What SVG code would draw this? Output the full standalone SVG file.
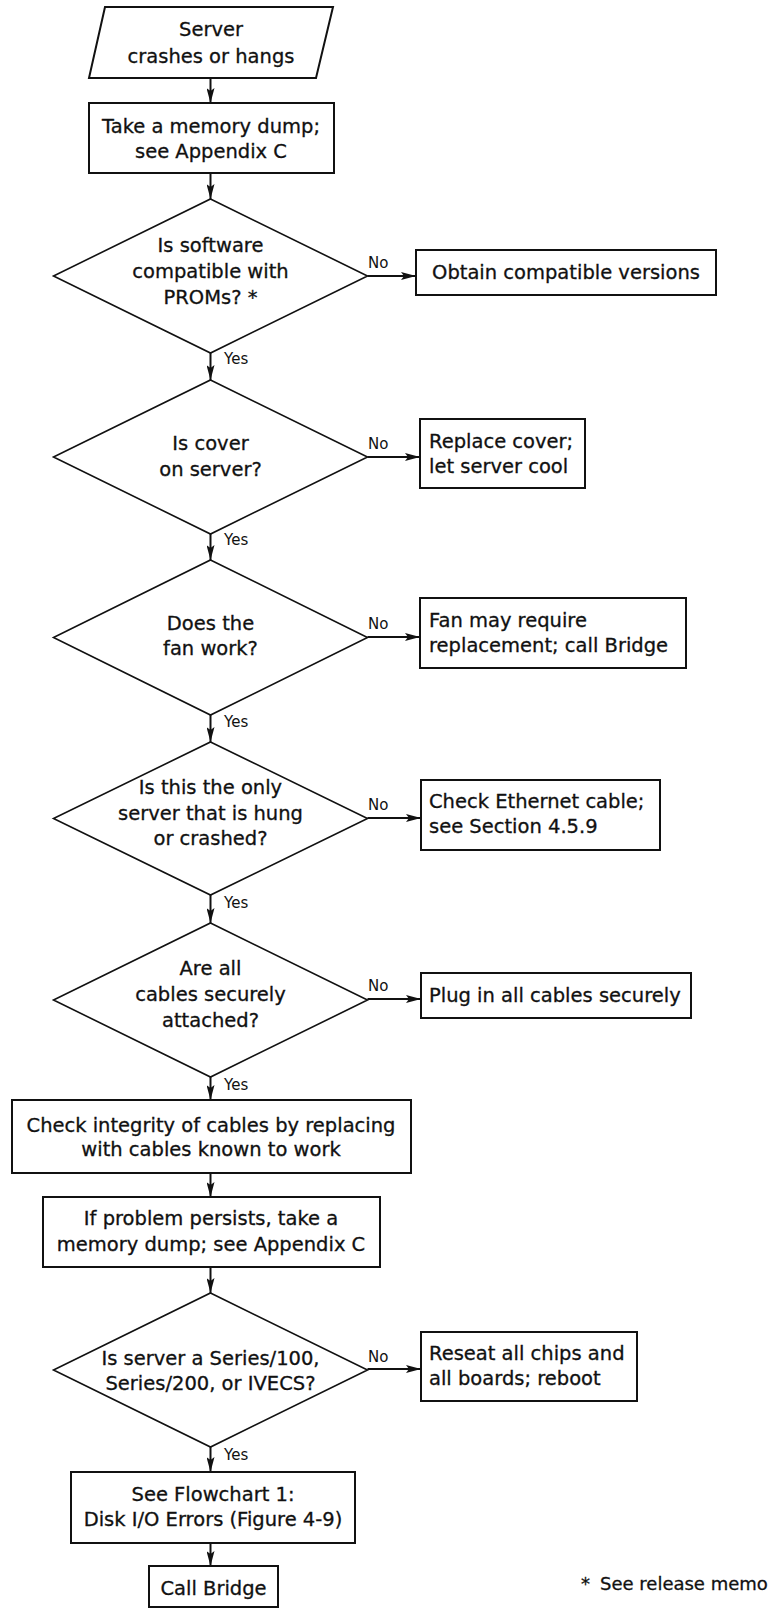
<svg xmlns="http://www.w3.org/2000/svg" width="772" height="1609" viewBox="0 0 772 1609">
  <style>
    .shape { fill: #fff; stroke: #111; stroke-width: 2; }
    .dia { fill: #fff; stroke: #111; stroke-width: 1.6; }
    .t { font-family: "DejaVu Sans", "Liberation Sans", sans-serif; font-size: 19.5px; fill: #111; stroke: #111; stroke-width: 0.3; }
    .c { text-anchor: middle; }
    .lbl { font-family: "DejaVu Sans", "Liberation Sans", sans-serif; font-size: 15px; fill: #111; }
    .edge { stroke: #111; stroke-width: 2; fill: none; marker-end: url(#arrow); }
  </style>
  <defs>
    <marker id="arrow" viewBox="0 0 15 8" refX="15" refY="4" markerWidth="15" markerHeight="8" markerUnits="userSpaceOnUse" orient="auto">
      <path d="M0,0 L15,4 L0,8 L3,4 z" fill="#111"/>
    </marker>
  </defs>
  <rect width="772" height="1609" fill="#fff"/>

  <!-- connectors and their Yes/No labels -->
  <g id="connectors">
    <line class="edge" x1="210.5" y1="78" x2="210.5" y2="103"/>
    <line class="edge" x1="210.5" y1="173" x2="210.5" y2="199"/>
    <line class="edge" x1="367.5" y1="276" x2="416" y2="276"/>
    <line class="edge" x1="210.5" y1="353" x2="210.5" y2="380"/>
    <line class="edge" x1="367.5" y1="457" x2="420" y2="457"/>
    <line class="edge" x1="210.5" y1="534" x2="210.5" y2="560"/>
    <line class="edge" x1="367.5" y1="637" x2="420" y2="637"/>
    <line class="edge" x1="210.5" y1="715" x2="210.5" y2="742"/>
    <line class="edge" x1="367.5" y1="818" x2="421" y2="818"/>
    <line class="edge" x1="210.5" y1="895" x2="210.5" y2="923"/>
    <line class="edge" x1="367.5" y1="999" x2="421" y2="999"/>
    <line class="edge" x1="210.5" y1="1077" x2="210.5" y2="1100"/>
    <line class="edge" x1="210.5" y1="1173" x2="210.5" y2="1197"/>
    <line class="edge" x1="210.5" y1="1267" x2="210.5" y2="1293"/>
    <line class="edge" x1="367.5" y1="1369" x2="421" y2="1369"/>
    <line class="edge" x1="210.5" y1="1447" x2="210.5" y2="1472"/>
    <line class="edge" x1="210.5" y1="1543" x2="210.5" y2="1566"/>
    <text class="lbl" x="368" y="268">No</text>
    <text class="lbl" x="224" y="364">Yes</text>
    <text class="lbl" x="368" y="449">No</text>
    <text class="lbl" x="224" y="545">Yes</text>
    <text class="lbl" x="368" y="629">No</text>
    <text class="lbl" x="224" y="727">Yes</text>
    <text class="lbl" x="368" y="810">No</text>
    <text class="lbl" x="224" y="908">Yes</text>
    <text class="lbl" x="368" y="991">No</text>
    <text class="lbl" x="224" y="1090">Yes</text>
    <text class="lbl" x="368" y="1362">No</text>
    <text class="lbl" x="224" y="1460">Yes</text>
  </g>

  <!-- start -->
  <g id="start">
    <polygon class="shape" points="105,7 333,7 316,78 89,78"/>
    <text class="t c" x="211" y="36">Server</text>
    <text class="t c" x="211" y="63">crashes or hangs</text>
  </g>

  <g id="dump1">
    <rect class="shape" x="89" y="103" width="245" height="70"/>
    <text class="t c" x="211" y="133">Take a memory dump;</text>
    <text class="t c" x="211" y="158">see Appendix C</text>
  </g>

  <g id="q-software">
    <polygon class="dia" points="210.5,199 367.5,276 210.5,353 53.5,276"/>
    <text class="t c" x="210.5" y="252">Is software</text>
    <text class="t c" x="210.5" y="278">compatible with</text>
    <text class="t c" x="210.5" y="304">PROMs? *</text>
  </g>
  <g id="obtain">
    <rect class="shape" x="416" y="250" width="300" height="45"/>
    <text class="t c" x="566" y="279">Obtain compatible versions</text>
  </g>

  <g id="q-cover">
    <polygon class="dia" points="210.5,380 367.5,457 210.5,534 53.5,457"/>
    <text class="t c" x="210.5" y="450">Is cover</text>
    <text class="t c" x="210.5" y="476">on server?</text>
  </g>
  <g id="replace-cover">
    <rect class="shape" x="420" y="419" width="165" height="69"/>
    <text class="t" x="429" y="448">Replace cover;</text>
    <text class="t" x="429" y="473">let server cool</text>
  </g>

  <g id="q-fan">
    <polygon class="dia" points="210.5,560 367.5,637.5 210.5,715 53.5,637.5"/>
    <text class="t c" x="210.5" y="630">Does the</text>
    <text class="t c" x="210.5" y="655">fan work?</text>
  </g>
  <g id="fan">
    <rect class="shape" x="420" y="598" width="266" height="70"/>
    <text class="t" x="429" y="627">Fan may require</text>
    <text class="t" x="429" y="652">replacement; call Bridge</text>
  </g>

  <g id="q-only">
    <polygon class="dia" points="210.5,742 367.5,818.5 210.5,895 53.5,818.5"/>
    <text class="t c" x="210.5" y="794">Is this the only</text>
    <text class="t c" x="210.5" y="820">server that is hung</text>
    <text class="t c" x="210.5" y="845">or crashed?</text>
  </g>
  <g id="ethernet">
    <rect class="shape" x="421" y="780" width="239" height="70"/>
    <text class="t" x="429" y="808">Check Ethernet cable;</text>
    <text class="t" x="429" y="833">see Section 4.5.9</text>
  </g>

  <g id="q-cables">
    <polygon class="dia" points="210.5,923 367.5,1000 210.5,1077 53.5,1000"/>
    <text class="t c" x="210.5" y="975">Are all</text>
    <text class="t c" x="210.5" y="1001">cables securely</text>
    <text class="t c" x="210.5" y="1027">attached?</text>
  </g>
  <g id="plug">
    <rect class="shape" x="421" y="973" width="270" height="45"/>
    <text class="t" x="429" y="1002">Plug in all cables securely</text>
  </g>

  <g id="integrity">
    <rect class="shape" x="12" y="1100" width="399" height="73"/>
    <text class="t c" x="211" y="1132">Check integrity of cables by replacing</text>
    <text class="t c" x="211" y="1156">with cables known to work</text>
  </g>

  <g id="dump2">
    <rect class="shape" x="43" y="1197" width="337" height="70"/>
    <text class="t c" x="211" y="1225">If problem persists, take a</text>
    <text class="t c" x="211" y="1251">memory dump; see Appendix C</text>
  </g>

  <g id="q-series">
    <polygon class="dia" points="210.5,1293 367.5,1370 210.5,1447 53.5,1370"/>
    <text class="t c" x="210.5" y="1365">Is server a Series/100,</text>
    <text class="t c" x="210.5" y="1390">Series/200, or IVECS?</text>
  </g>
  <g id="reseat">
    <rect class="shape" x="421" y="1332" width="216" height="69"/>
    <text class="t" x="429" y="1360">Reseat all chips and</text>
    <text class="t" x="429" y="1385">all boards; reboot</text>
  </g>

  <g id="flowchart1">
    <rect class="shape" x="71" y="1472" width="284" height="71"/>
    <text class="t c" x="213" y="1501">See Flowchart 1:</text>
    <text class="t c" x="213" y="1526">Disk I/O Errors (Figure 4-9)</text>
  </g>

  <g id="call-bridge">
    <rect class="shape" x="149" y="1566" width="129" height="41"/>
    <text class="t c" x="213.5" y="1595">Call Bridge</text>
  </g>

  <g id="footnote">
    <text class="t" style="font-size:18px"><tspan x="581" y="1590">*</tspan><tspan x="600" y="1590">See release memo</tspan></text>
  </g>
</svg>
